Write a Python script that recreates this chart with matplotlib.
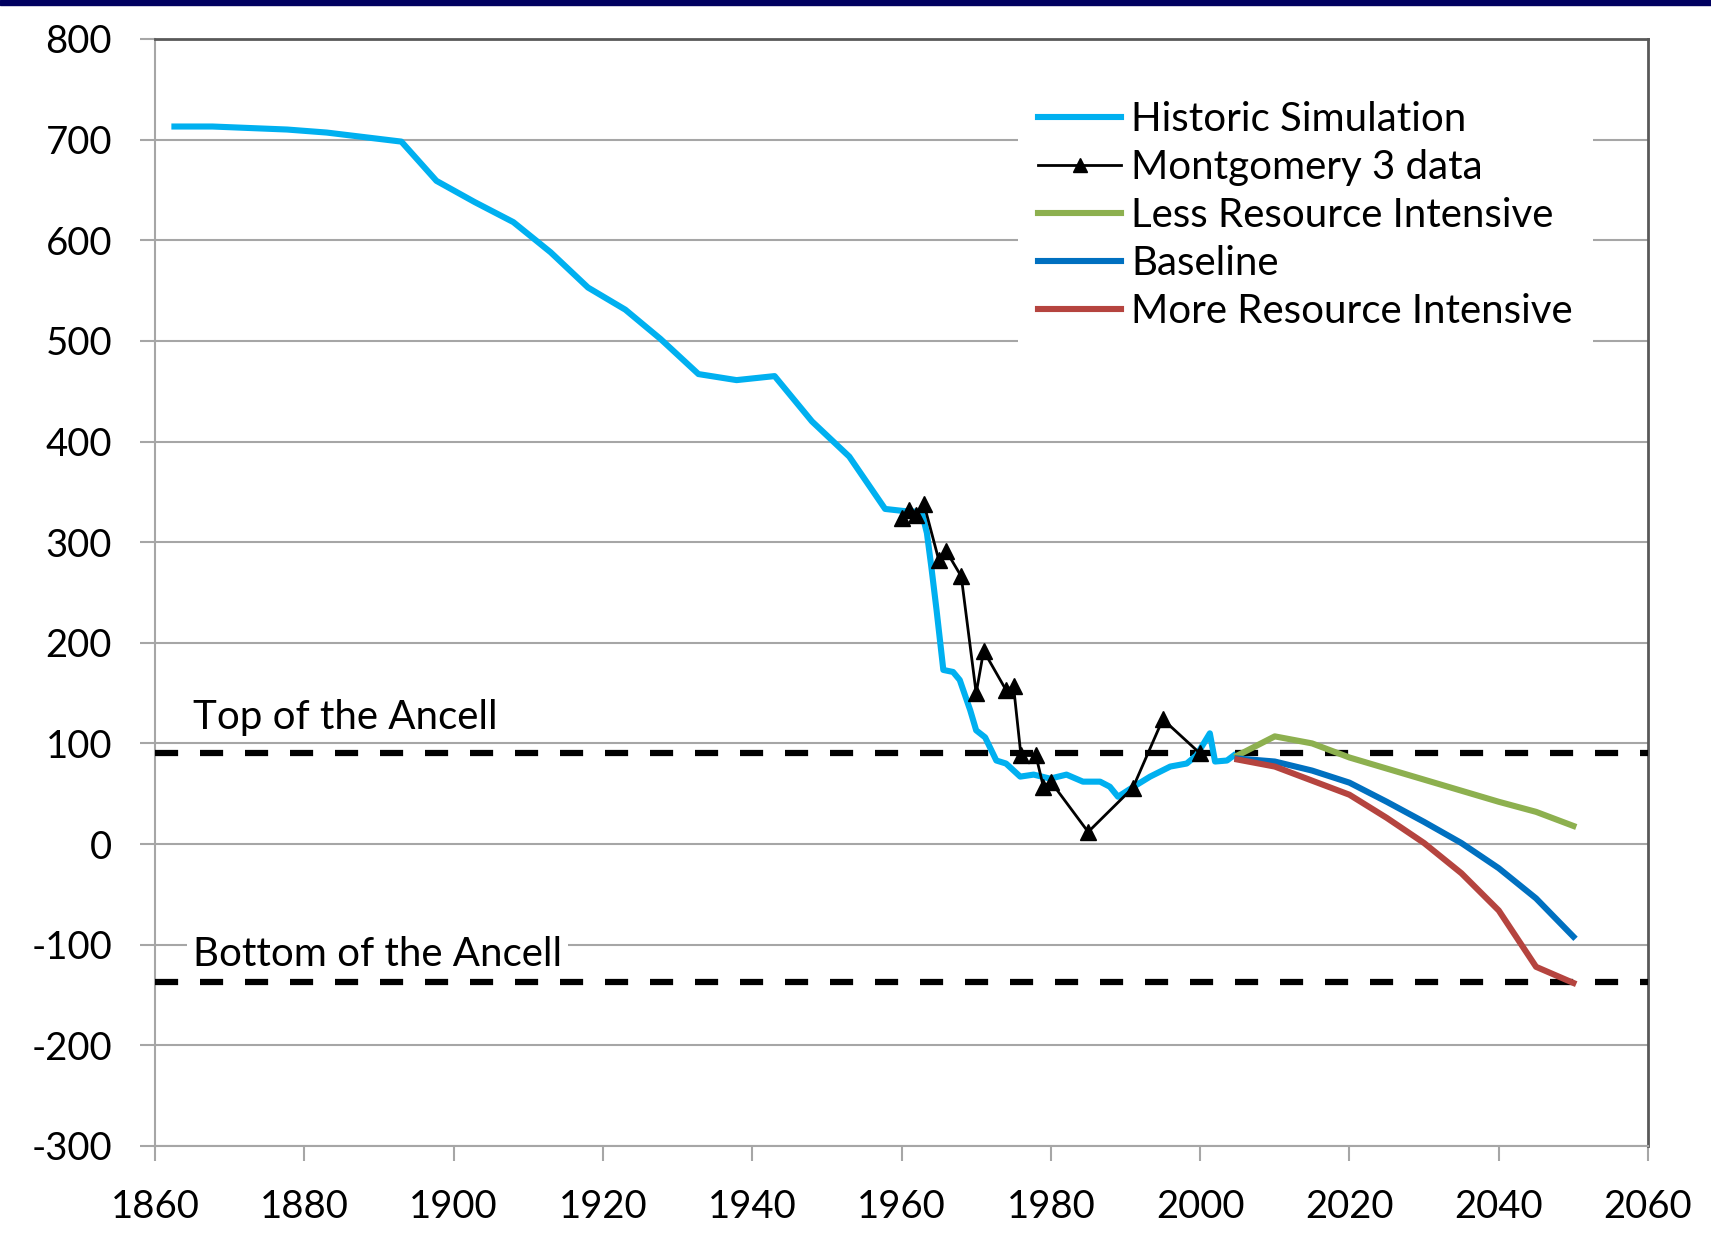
import matplotlib
matplotlib.use("Agg")
import matplotlib.pyplot as plt
from matplotlib.patches import Rectangle

plt.rcParams['font.family'] = ['Lato', 'DejaVu Sans']
plt.rcParams['axes.unicode_minus'] = False

# historic simulation (cyan)
hist_years = [1862.6, 1867.7, 1877.7, 1883, 1893, 1897.7, 1902.8, 1908, 1913, 1918,
              1923, 1927.7, 1932.8, 1937.9, 1943, 1948, 1953, 1957.8, 1960.2, 1962.7,
              1963.4, 1964, 1964.7, 1965.6, 1966.9, 1967.8, 1969.2, 1970, 1971.2, 1972.7,
              1974, 1975.9, 1977.7, 1979.9, 1982.1, 1984.3, 1986.6, 1987.9, 1989, 1991.1,
              1993.3, 1996, 1998.2, 1999.5, 2001.3, 2002, 2003.6, 2004.5]
hist_vals = [713, 713, 710, 707, 698, 659, 638, 618, 588, 553,
             531, 502, 467, 461, 465, 420, 385, 333, 331, 330,
             309, 275, 232, 173, 171, 163, 133, 113, 106, 83,
             80, 67, 69, 65, 69, 62, 62, 57, 47, 57,
             67, 77, 80, 88, 110, 82, 83, 88]

# Montgomery 3 data
mont_years = [1960, 1961, 1962, 1963, 1965, 1966, 1968, 1970, 1971, 1974,
              1975, 1976, 1978, 1979, 1980, 1985, 1991, 1995, 2000]
mont_vals = [324, 332, 327, 338, 282, 291, 266, 150, 192, 153,
             157, 88, 88, 57, 62, 12, 56, 124, 90]

# projections
proj_years = [2005, 2010, 2015, 2020, 2025, 2030, 2035, 2040, 2045, 2050]
less_vals = [88, 107, 100, 86, 75, 64, 53, 42, 32, 18]
base_vals = [85, 82, 73, 61, 42, 22, 1, -24, -54, -92]
more_vals = [84, 77, 63, 49, 26, 1, -29, -66, -122, -138]

ancell_top = 90
ancell_bottom = -137

fig = plt.figure(figsize=(17.11, 12.33), dpi=100)
ax = fig.add_axes([0.0906, 0.0706, 0.8726, 0.8978])

# navy band across the top of the slide
fig.patches.append(Rectangle((0, 0.996), 1, 0.004, transform=fig.transFigure,
                             color='#000060', zorder=0))

grey = '#a6a6a6'
ax.set_xlim(1860, 2060)
ax.set_ylim(-300, 800)
ax.set_xticks(range(1860, 2061, 20))
ax.set_yticks(range(-300, 801, 100))
ax.yaxis.grid(True, color=grey, linewidth=1.5)
ax.set_axisbelow(True)
for s in ['left', 'bottom']:
    ax.spines[s].set_color(grey)
    ax.spines[s].set_linewidth(1.5)
for s in ['top', 'right']:
    ax.spines[s].set_color('#595959')
    ax.spines[s].set_linewidth(2)
ax.tick_params(axis='both', direction='out', length=11, width=1.5, color=grey,
               labelsize=27.5, labelcolor='black')
ax.tick_params(axis='y', pad=20)
ax.tick_params(axis='x', pad=20)

# Ancell limits
for yv in [ancell_top, ancell_bottom]:
    ax.plot([1860, 2060], [yv, yv], color='black', linewidth=4.5,
            dashes=(3.7, 3.5), zorder=3, clip_on=False)
box = dict(facecolor='white', edgecolor='none', pad=4)
ax.text(1865.1, 126, 'Top of the Ancell', fontsize=29, va='center', ha='left',
        bbox=box, zorder=2)
ax.text(1865.1, -110, 'Bottom of the Ancell', fontsize=29, va='center', ha='left',
        bbox=box, zorder=2)

ax.plot(hist_years, hist_vals, color='#00B0F0', linewidth=4.4, label='Historic Simulation', zorder=4)
ax.plot(mont_years, mont_vals, color='black', linewidth=2, marker='^', markersize=12,
        label='Montgomery 3 data', zorder=5)
ax.plot(proj_years, less_vals, color='#8DB04F', linewidth=4.4, label='Less Resource Intensive', zorder=4)
ax.plot(proj_years, base_vals, color='#0070C0', linewidth=4.4, label='Baseline', zorder=4)
ax.plot(proj_years, more_vals, color='#B5443F', linewidth=4.4, label='More Resource Intensive', zorder=4)

leg = ax.legend(loc='upper right', bbox_to_anchor=(0.963, 0.962), fontsize=29,
                frameon=True, fancybox=False, handlelength=2.05, handletextpad=0.25,
                labelspacing=0.27, borderpad=0.5, borderaxespad=0, markerscale=0.85)
leg.get_frame().set_facecolor('white')
leg.get_frame().set_edgecolor('none')
leg.get_frame().set_alpha(1)
leg.set_zorder(6)

fig.savefig('out.png', dpi=100)
